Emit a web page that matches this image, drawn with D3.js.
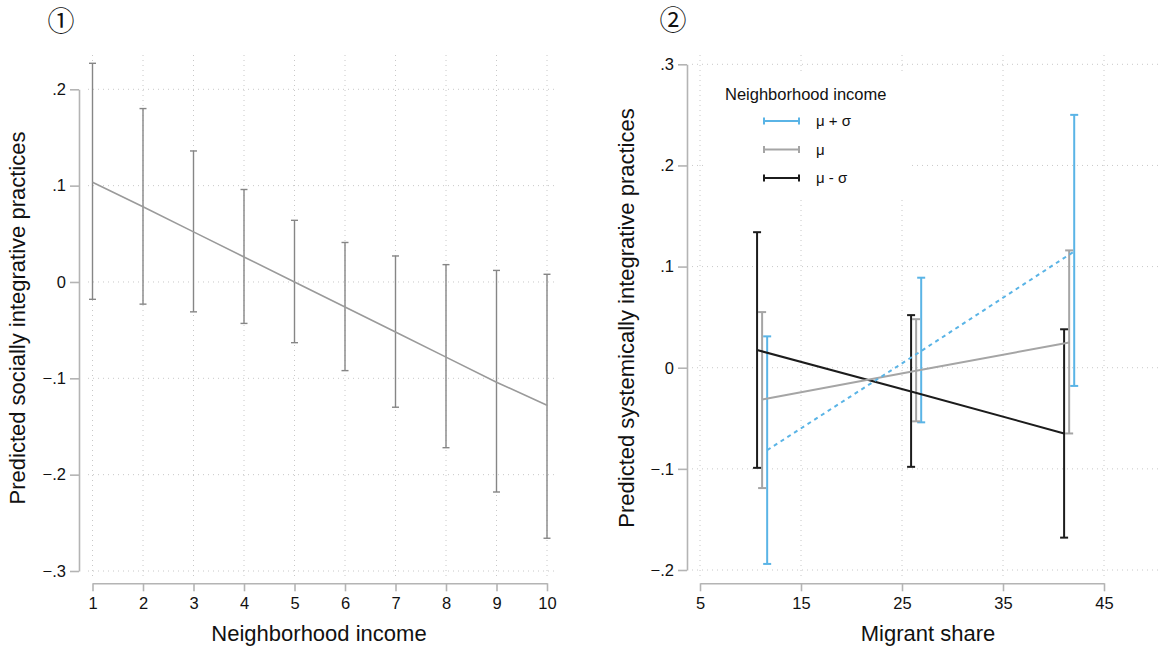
<!DOCTYPE html>
<html>
<head>
<meta charset="utf-8">
<script src="https://cdn.jsdelivr.net/npm/d3@7"></script>
<style>
  body { margin: 0; background: #fff; }
  svg { display: block; font-family: "Liberation Sans", Arial, Helvetica, sans-serif; }
</style>
</head>
<body>
<svg id="svg" width="1159" height="651"></svg>
<script>
// panel 1: neighborhood income
const incomeLevels = [1, 2, 3, 4, 5, 6, 7, 8, 9, 10];
const socialFit = [0.1035, 0.078, 0.052, 0.026, 0.0, -0.026, -0.052, -0.078, -0.104, -0.128];
const socialLo = [-0.018, -0.023, -0.031, -0.043, -0.063, -0.092, -0.130, -0.172, -0.218, -0.266];
const socialHi = [0.227, 0.180, 0.136, 0.096, 0.064, 0.041, 0.027, 0.018, 0.012, 0.008];
const incomeTicks = [1, 2, 3, 4, 5, 6, 7, 8, 9, 10];
const socialTicks = [-0.3, -0.2, -0.1, 0, 0.1, 0.2];

// panel 2: migrant share by income level
const seriesNames = ["μ + σ", "μ", "μ - σ"];
const seriesColors = ["#5ab4e6", "#a5a5a5", "#1c1c1c"];
const shareX = [[11.65, 26.9, 42.05], [11.15, 26.4, 41.55], [10.65, 25.9, 41.05]];
const systemFit = [[-0.0815, 0.0165, 0.115], [-0.0315, -0.003, 0.025], [0.0175, -0.0235, -0.065]];
const systemLo = [[-0.194, -0.054, -0.018], [-0.119, -0.053, -0.065], [-0.099, -0.098, -0.168]];
const systemHi = [[0.031, 0.089, 0.250], [0.055, 0.048, 0.116], [0.134, 0.052, 0.038]];
const shareTicks = [5, 15, 25, 35, 45];
const systemTicks = [-0.2, -0.1, 0, 0.1, 0.2, 0.3];

let svg = d3.select('#svg');
const fmt = d => d === 0 ? "0" : d3.format(".1f")(d).replace("0.", ".");
const gridColor = "#c8c8c8";
const axisColor = "#b4b4b4";

function grid(x, y, xt, yt, x0, x1, y0, y1) {
    let g = svg.append("g");
    xt.forEach(t => g.append("line").attr("x1", x(t)).attr("x2", x(t)).attr("y1", y0).attr("y2", y1));
    yt.forEach(t => g.append("line").attr("x1", x0).attr("x2", x1).attr("y1", y(t)).attr("y2", y(t)));
    g.selectAll("line").attr("stroke", gridColor).attr("stroke-width", 1).attr("stroke-dasharray", "1,4");
    return g;
}

function axes(x, y, xt, yt, xAxisY, yAxisX) {
    let gx = svg.append("g").attr("transform", "translate(0," + xAxisY + ")")
        .call(d3.axisBottom(x).tickValues(xt).tickSize(8).tickSizeOuter(0).tickPadding(6).tickFormat(d3.format("d")));
    let gy = svg.append("g").attr("transform", "translate(" + yAxisX + ",0)")
        .call(d3.axisLeft(y).tickValues(yt).tickSize(9).tickSizeOuter(0).tickPadding(4).tickFormat(fmt));
    [gx, gy].forEach(g => {
        g.attr("font-size", null);
        g.select(".domain").attr("stroke", axisColor).attr("stroke-width", 1.6);
        g.selectAll(".tick line").attr("stroke", axisColor).attr("stroke-width", 1.6);
        g.selectAll(".tick text").attr("fill", "#111").attr("font-size", 16.5).style("font-size", "16.5px");
    });
}

function errBar(x, lo, hi, y, color, width, cap) {
    svg.append("line").attr("x1", x).attr("x2", x).attr("y1", y(lo)).attr("y2", y(hi))
        .attr("stroke", color).attr("stroke-width", width);
    [lo, hi].forEach(v => svg.append("line").attr("x1", x - cap).attr("x2", x + cap)
        .attr("y1", y(v)).attr("y2", y(v)).attr("stroke", color).attr("stroke-width", width));
}

// ---------- panel 1 ----------
const x1 = d3.scaleLinear().domain([1, 10]).range([92.5, 547]);
const y1 = d3.scaleLinear().domain([-0.3, 0.2]).range([571, 89.3]);

grid(x1, y1, incomeTicks, socialTicks, 88, 557, 55, 578);
axes(x1, y1, incomeTicks, socialTicks, 583.3, 79);

incomeLevels.forEach((d, i) => errBar(x1(d), socialLo[i], socialHi[i], y1, "#868686", 1.4, 3.5));

svg.append("path")
    .datum(incomeLevels.map((d, i) => [d, socialFit[i]]))
    .attr("d", d3.line().x(d => x1(d[0])).y(d => y1(d[1])))
    .attr("fill", "none").attr("stroke", "#9a9a9a").attr("stroke-width", 1.6);

svg.append("text").attr("x", 319).attr("y", 641).attr("text-anchor", "middle")
    .style("font-size", "22px").attr("fill", "#111").text("Neighborhood income");
svg.append("text").attr("transform", "translate(25,318) rotate(-90)").attr("text-anchor", "middle")
    .style("font-size", "22px").attr("fill", "#111").text("Predicted socially integrative practices");
svg.append("text").attr("x", 61).attr("y", 31).attr("text-anchor", "middle")
    .style("font-family", "'Noto Sans CJK JP', 'DejaVu Sans', sans-serif").style("font-size", "27px").attr("fill", "#111").text("①");

// ---------- panel 2 ----------
const x2 = d3.scaleLinear().domain([5, 45]).range([700, 1104]);
const y2 = d3.scaleLinear().domain([-0.2, 0.3]).range([570, 64.3]);

grid(x2, y2, shareTicks, systemTicks, 692, 1159, 55, 578);
// legend background hides the grid behind it
svg.append("rect").attr("x", 707).attr("y", 74).attr("width", 205).attr("height", 126).attr("fill", "#fff");
axes(x2, y2, shareTicks, systemTicks, 583.3, 687);

seriesNames.forEach((name, s) => {
    shareX[s].forEach((d, i) => errBar(x2(d), systemLo[s][i], systemHi[s][i], y2, seriesColors[s], 2, 4));
});
[2, 1, 0].forEach(s => {
    svg.append("path")
        .datum(shareX[s].map((d, i) => [d, systemFit[s][i]]))
        .attr("d", d3.line().x(d => x2(d[0])).y(d => y2(d[1])))
        .attr("fill", "none").attr("stroke", seriesColors[s]).attr("stroke-width", 2)
        .attr("stroke-dasharray", s === 0 ? "4,4" : null);
});

// legend
svg.append("text").attr("x", 725).attr("y", 100).style("font-size", "16.5px").attr("fill", "#111").text("Neighborhood income");
seriesNames.forEach((name, s) => {
    let ly = 121 + s * 28.5;
    svg.append("line").attr("x1", 764).attr("x2", 799).attr("y1", ly).attr("y2", ly)
        .attr("stroke", seriesColors[s]).attr("stroke-width", 2.2);
    [764, 799].forEach(lx => svg.append("line").attr("x1", lx).attr("x2", lx).attr("y1", ly - 3.5).attr("y2", ly + 3.5)
        .attr("stroke", seriesColors[s]).attr("stroke-width", 2));
    svg.append("text").attr("x", 816).attr("y", ly + 5).style("font-size", "15px").attr("fill", "#111").text(name);
});

svg.append("text").attr("x", 928).attr("y", 641).attr("text-anchor", "middle")
    .style("font-size", "22px").attr("fill", "#111").text("Migrant share");
svg.append("text").attr("transform", "translate(634,318) rotate(-90)").attr("text-anchor", "middle")
    .style("font-size", "22px").attr("fill", "#111").text("Predicted systemically integrative practices");
svg.append("text").attr("x", 673).attr("y", 30).attr("text-anchor", "middle")
    .style("font-family", "'Noto Sans CJK JP', 'DejaVu Sans', sans-serif").style("font-size", "27px").attr("fill", "#111").text("②");
</script>
</body>
</html>
